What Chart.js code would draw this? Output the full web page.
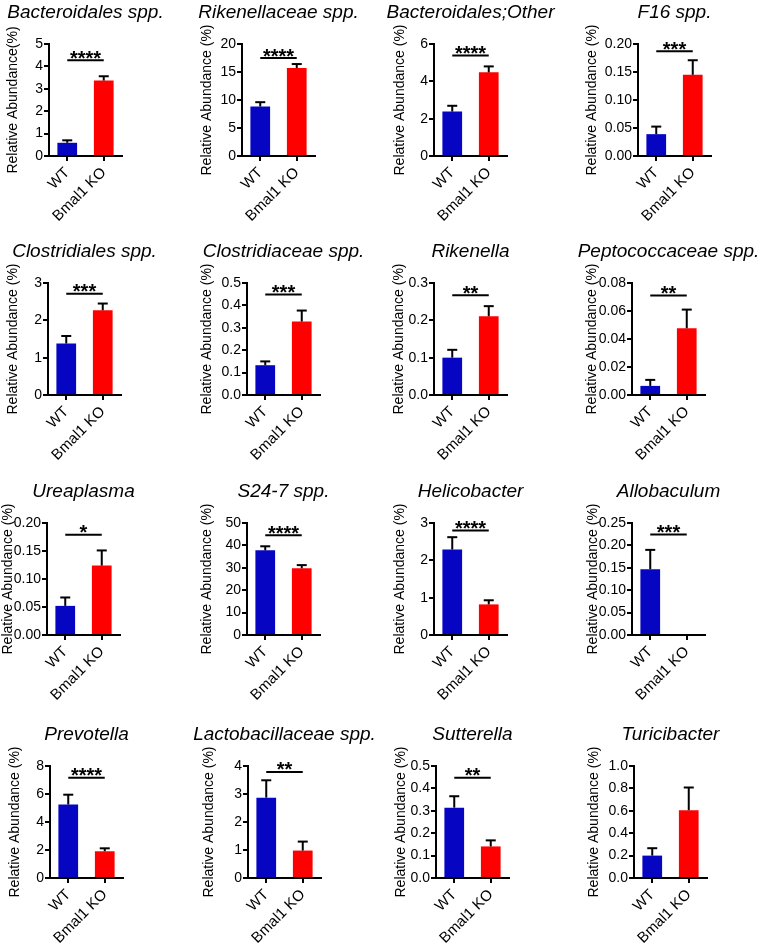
<!DOCTYPE html>
<html>
<head>
<meta charset="utf-8">
<script src="https://cdn.jsdelivr.net/npm/chart.js@4.4.0/dist/chart.umd.min.js"></script>
<style>
  body { margin: 0; background: #fff; }
  #wrap { position: relative; width: 768px; height: 946px; overflow: hidden; }
  #wrap canvas { position: absolute; }
</style>
</head>
<body>
<div id="wrap"></div>
<script>
const groups = ['WT', 'Bmal1 KO'];
const taxa = [
    'Bacteroidales spp.', 'Rikenellaceae spp.', 'Bacteroidales;Other', 'F16 spp.',
    'Clostridiales spp.', 'Clostridiaceae spp.', 'Rikenella', 'Peptococcaceae spp.',
    'Ureaplasma', 'S24-7 spp.', 'Helicobacter', 'Allobaculum',
    'Prevotella', 'Lactobacillaceae spp.', 'Sutterella', 'Turicibacter'
];
const wtMean = [0.59, 8.84, 2.38, 0.039, 1.38, 0.133, 0.10, 0.0065, 0.052, 37.8, 2.29, 0.147, 5.25, 2.87, 0.314, 0.20];
const wtErr  = [0.11, 0.77, 0.31, 0.0135, 0.20, 0.017, 0.021, 0.0043, 0.015, 1.8, 0.33, 0.043, 0.70, 0.62, 0.051, 0.066];
const koMean = [3.37, 15.7, 4.48, 0.145, 2.27, 0.328, 0.211, 0.0477, 0.124, 29.8, 0.82, 0, 1.91, 0.98, 0.141, 0.605];
const koErr  = [0.19, 0.72, 0.32, 0.026, 0.18, 0.049, 0.027, 0.0133, 0.027, 1.4, 0.11, 0, 0.21, 0.32, 0.027, 0.203];
const stars = ['****', '****', '****', '***', '***', '***', '**', '**', '*', '****', '****', '***', '****', '**', '**', ''];
// height of the significance bar, in axis units
const sigLevel = [4.27, 17.5, 5.38, 0.187, 2.71, 0.449, 0.267, 0.0711, 0.179, 44.5, 2.80, 0.2245, 7.16, 3.79, 0.448, null];
const yMax = [5, 20, 6, 0.20, 3, 0.5, 0.3, 0.08, 0.20, 50, 3, 0.25, 8, 4, 0.5, 1.0];
const yStep = [1, 5, 2, 0.05, 1, 0.1, 0.1, 0.02, 0.05, 10, 1, 0.05, 2, 1, 0.1, 0.2];
const yDecimals = [0, 0, 0, 2, 0, 1, 1, 2, 2, 0, 0, 2, 0, 0, 1, 1];

// layout in px: y axis position and y title centre inside each panel
const axisLeft = [49, 50, 50, 62, 48, 55, 50, 56, 47, 55, 50, 56, 50, 56, 52, 58];
const yTitleX = [13, 15, 16, 16, 13, 15, 15, 16, 8, 15, 16, 17, 15, 17, 17, 18];
const rowTop = [0, 239, 479, 722];
const PANEL_W = 192, PANEL_H = 224, PLOT_TOP = 44, PLOT_H = 112, PLOT_W = 73;
const FONT = '"Liberation Sans", Arial, sans-serif';
const BLUE = '#0505C2', RED = '#FF0000';

// error bars (upper SEM), significance bar, stars and panel title
const overlay = {
    id: 'overlay',
    afterDatasetsDraw(chart, args, opts) {
        const { ctx, chartArea, scales: { x, y } } = chart;
        const i = opts.index;
        ctx.save();
        ctx.strokeStyle = '#000';
        ctx.lineWidth = 2;
        const line = (x1, y1, x2, y2) => {
            ctx.beginPath();
            ctx.moveTo(x1, y1);
            ctx.lineTo(x2, y2);
            ctx.stroke();
        };
        [[wtMean, wtErr], [koMean, koErr]].forEach(([m, e], k) => {
            if (!e[i]) return;
            const px = x.getPixelForValue(k);
            const top = y.getPixelForValue(m[i] + e[i]);
            line(px, y.getPixelForValue(m[i]), px, top);
            line(px - 5, top, px + 5, top);
        });
        if (sigLevel[i] !== null) {
            const sy = y.getPixelForValue(sigLevel[i]);
            const x0 = x.getPixelForValue(0), x1 = x.getPixelForValue(1);
            line(x0, sy, x1, sy);
            ctx.fillStyle = '#000';
            ctx.font = `bold 20px ${FONT}`;
            ctx.textAlign = 'center';
            ctx.textBaseline = 'alphabetic';
            ctx.fillText(stars[i], (x0 + x1) / 2, sy + 4.5);
        }
        ctx.fillStyle = '#000';
        ctx.font = `italic 19px ${FONT}`;
        ctx.textAlign = 'center';
        ctx.textBaseline = 'middle';
        ctx.fillText(taxa[i], (chartArea.left + chartArea.right) / 2, 13);
        ctx.restore();
    }
};

const wrap = document.getElementById('wrap');

taxa.forEach((name, i) => {
    const row = Math.floor(i / 4), col = i % 4;
    const canvas = document.createElement('canvas');
    canvas.width = PANEL_W;
    canvas.height = PANEL_H;
    canvas.style.left = (col * PANEL_W) + 'px';
    canvas.style.top = rowTop[row] + 'px';
    wrap.appendChild(canvas);

    new Chart(canvas, {
        type: 'bar',
        data: {
            labels: groups,
            datasets: [{
                data: [wtMean[i], koMean[i]],
                backgroundColor: [BLUE, RED],
                borderWidth: 0,
                barPercentage: 0.54,
                categoryPercentage: 1
            }]
        },
        plugins: [overlay],
        options: {
            responsive: false,
            animation: false,
            devicePixelRatio: 1,
            layout: {
                padding: { top: PLOT_TOP, left: 0, bottom: 0, right: PANEL_W - axisLeft[i] - PLOT_W }
            },
            plugins: {
                legend: { display: false },
                tooltip: { enabled: false },
                overlay: { index: i }
            },
            scales: {
                x: {
                    afterFit: (scale) => { scale.height = PANEL_H - PLOT_TOP - PLOT_H; },
                    border: { display: true, color: '#000', width: 2 },
                    grid: { display: true, offset: false, drawOnChartArea: false, drawTicks: true, tickLength: 5, color: '#000', lineWidth: 2 },
                    ticks: { color: '#000', font: { family: FONT, size: 15 }, minRotation: 45, maxRotation: 45, padding: 3, autoSkip: false }
                },
                y: {
                    min: 0,
                    max: yMax[i],
                    afterFit: (scale) => { scale.width = axisLeft[i]; },
                    border: { display: true, color: '#000', width: 2 },
                    grid: { display: true, drawOnChartArea: false, drawTicks: true, tickLength: 5, color: '#000', lineWidth: 2 },
                    ticks: {
                        stepSize: yStep[i],
                        color: '#000',
                        padding: 1,
                        font: { family: FONT, size: 14 },
                        callback: (v) => Number(v).toFixed(yDecimals[i])
                    },
                    title: {
                        display: true,
                        text: i === 0 ? 'Relative Abundance(%)' : 'Relative Abundance (%)',
                        color: '#000',
                        font: { family: FONT, size: 14 },
                        padding: { top: yTitleX[i] - 8.4, bottom: 0 }
                    }
                }
            }
        }
    });
});
</script>
</body>
</html>
